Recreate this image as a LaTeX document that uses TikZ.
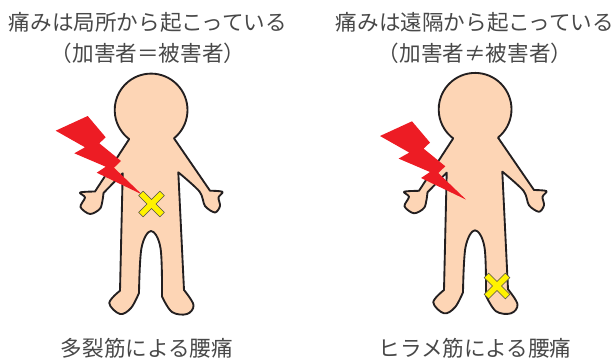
\documentclass[tikz,border=0pt]{standalone}
\usepackage{fontspec}
\setmainfont{Noto Sans CJK JP}
\definecolor{skin}{HTML}{FDD5B5}
\definecolor{outline}{HTML}{231F20}
\definecolor{bolt}{HTML}{ED1C24}
\definecolor{mark}{HTML}{FFF200}
\definecolor{caption}{HTML}{484848}
\tikzset{
    caption/.style={text=caption,font=\fontsize{16.2}{18}\selectfont,inner sep=0pt},
}
\newcommand{\drawperson}{
    \draw[fill=skin,draw=outline,line width=1.4pt,line join=round]
        (174,138.3) arc[start angle=51,end angle=-233,radius=27.3pt]
        -- (95,191.5)
        -- plot[smooth,tension=.5] coordinates {(95,191.5) (80,192.5) (85,197.5) (80.5,207) (90,214) (100.5,208) (103.5,193)}
        -- (122.7,173.3) -- (120,290.7)
        -- plot[smooth,tension=.6] coordinates {(120,290.7) (109.3,303) (120,314) (131,308) (139,293)}
        -- plot[smooth,tension=.6] coordinates {(139,293) (141.5,248) (151,231) (160.5,248) (162,296.5)}
        -- plot[smooth,tension=.6] coordinates {(162,296.5) (172,312) (187,314) (193.5,305) (184,290)}
        -- (178.3,172.3)
        -- plot[smooth,tension=.5] coordinates {(178.3,172.3) (199.5,191.5) (205,206) (215,212.5) (220,206) (218.5,197.5) (222.5,191.8) (210,190.7)}
        -- cycle;
}
\newcommand{\drawbolt}{
    \fill[bolt] (55.7,130.7) -- (87.7,116) -- (105.7,137.3) -- (99.3,143.3) -- (121,161) -- (114,167.7)
        -- (141.7,194.3) -- (96.7,172.7) -- (105.7,166.7) -- (74.3,153.3) -- (85,147.3) -- cycle;
}
\newcommand{\drawhurt}{
    \draw[fill=mark,draw=outline!80,line width=.4pt,rotate=45]
        (-3.2,-15) -- (3.2,-15) -- (3.2,-3.2) -- (15,-3.2) -- (15,3.2) -- (3.2,3.2)
        -- (3.2,15) -- (-3.2,15) -- (-3.2,3.2) -- (-15,3.2) -- (-15,-3.2) -- (-3.2,-3.2) -- cycle;
}
\begin{document}
\begin{tikzpicture}[x=.75pt,y=.75pt,yscale=-1]
    \useasboundingbox (0,0) rectangle (614,357);
    % left figure
    \node[caption] (topL) at (148,22) {痛みは局所から起こっている};
    \node[caption] (subL) at (148,53) {（加害者＝被害者）};
    \drawperson
    \drawbolt
    \begin{scope}[shift={(151.5,204)}] \drawhurt \end{scope}
    \node[caption] (nameL) at (147,348) {多裂筋による腰痛};
    % right figure
    \node[caption] (topR) at (475,22) {痛みは遠隔から起こっている};
    \node[caption] (subR) at (475,53) {（加害者≠被害者）};
    \begin{scope}[shift={(324,-.7)}] \drawperson \end{scope}
    \begin{scope}[shift={(324.3,5.3)}] \drawbolt \end{scope}
    \begin{scope}[shift={(497,286)}] \drawhurt \end{scope}
    \node[caption] (nameR) at (475,348) {ヒラメ筋による腰痛};
\end{tikzpicture}
\end{document}
